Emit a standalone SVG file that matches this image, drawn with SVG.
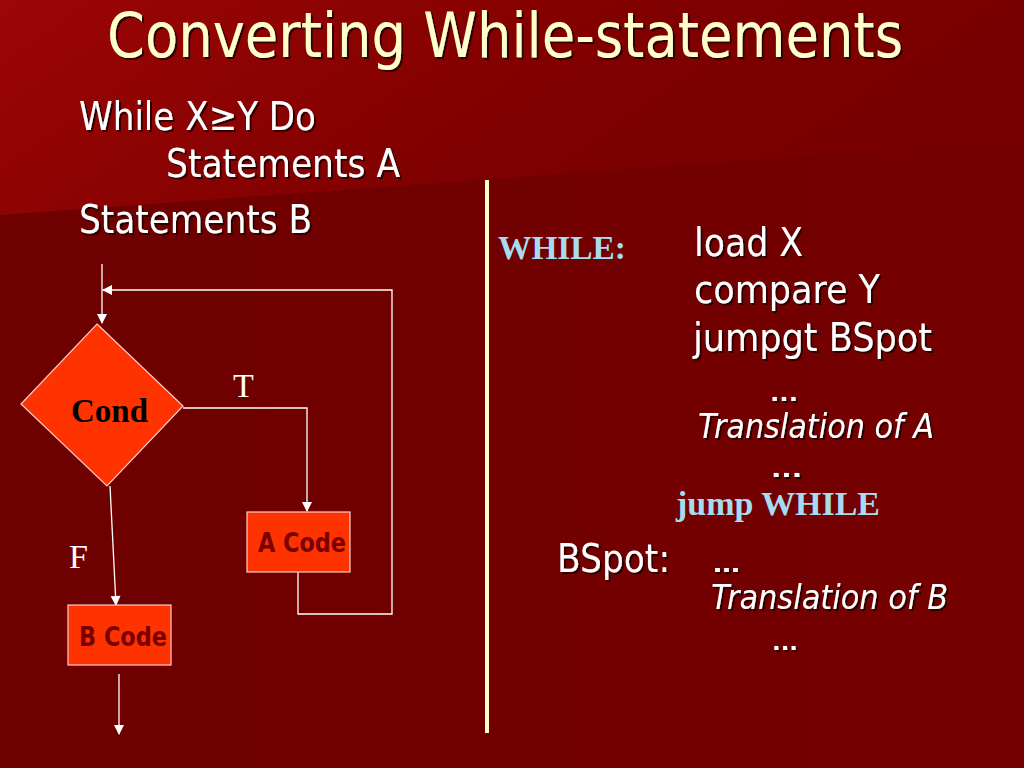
<svg xmlns="http://www.w3.org/2000/svg" width="1024" height="768" viewBox="0 0 1024 768">
<defs>
<linearGradient id="bgTop" x1="0" y1="0" x2="1" y2="0.3">
<stop offset="0" stop-color="#9c0606"/>
<stop offset="0.6" stop-color="#800000"/>
<stop offset="1" stop-color="#780000"/>
</linearGradient>
<linearGradient id="bgLow" x1="0" y1="0" x2="1" y2="0">
<stop offset="0" stop-color="#6e0000"/>
<stop offset="1" stop-color="#750000"/>
</linearGradient>
<filter id="sh" x="-10%" y="-20%" width="120%" height="150%">
<feDropShadow dx="2" dy="2" stdDeviation="0.6" flood-color="#2a0000" flood-opacity="0.9"/>
</filter>
<marker id="arr" viewBox="0 0 10 10" refX="9" refY="5" markerWidth="11" markerHeight="10" markerUnits="userSpaceOnUse" orient="auto">
<path d="M0,0 L10,5 L0,10 Z" fill="#ffffff"/>
</marker>
<style>
.body{font-family:"DejaVu Sans Condensed","DejaVu Sans","Liberation Sans",sans-serif;font-size:39px;fill:#ffffff;filter:url(#sh)}
.ital{font-style:italic;font-size:34px}
.title{font-family:"DejaVu Sans Condensed","DejaVu Sans","Liberation Sans",sans-serif;font-size:63px;fill:#ffffcc;filter:url(#sh)}
.blue{font-family:"Liberation Serif","Times New Roman",serif;font-weight:bold;fill:#a6dcf0;font-size:33px}
.serif{font-family:"Liberation Serif","Times New Roman",serif;fill:#ffffff;font-size:34px}
.box{fill:#ff3300;stroke:#ffcccc;stroke-width:1.2}
.boxt{font-family:"DejaVu Sans Condensed","DejaVu Sans","Liberation Sans",sans-serif;font-weight:bold;font-size:26px;fill:#7a0000}
.con{fill:none;stroke:#ffffff;stroke-width:1.3}
.dots{font-family:"DejaVu Sans","Liberation Sans",sans-serif;font-size:22px;font-weight:bold;fill:#ffffff;filter:url(#sh)}
</style>
</defs>
<rect x="0" y="0" width="1024" height="768" fill="url(#bgLow)"/>
<polygon points="0,0 1024,0 1024,140 0,215" fill="url(#bgTop)"/>

<text class="title" x="107" y="57" textLength="796" lengthAdjust="spacingAndGlyphs">Converting While-statements</text>

<text class="body" x="79" y="130" textLength="237" lengthAdjust="spacingAndGlyphs">While X≥Y Do</text>
<text class="body" x="166" y="177" textLength="234" lengthAdjust="spacingAndGlyphs">Statements A</text>
<text class="body" x="79" y="233" textLength="233" lengthAdjust="spacingAndGlyphs">Statements B</text>

<line x1="487" y1="180" x2="487" y2="733" stroke="#ffffcc" stroke-width="4"/>

<text class="blue" x="498" y="259" textLength="128" lengthAdjust="spacingAndGlyphs">WHILE:</text>
<text class="body" x="694" y="256" textLength="109" lengthAdjust="spacingAndGlyphs">load X</text>
<text class="body" x="694" y="303" textLength="186" lengthAdjust="spacingAndGlyphs">compare Y</text>
<text class="body" x="693" y="351" textLength="239" lengthAdjust="spacingAndGlyphs">jumpgt BSpot</text>
<text class="dots" x="770" y="401" textLength="28" lengthAdjust="spacingAndGlyphs">...</text>
<text class="body ital" x="698" y="438" textLength="236" lengthAdjust="spacingAndGlyphs">Translation of A</text>
<text class="dots" x="771" y="477" textLength="31" lengthAdjust="spacingAndGlyphs">...</text>
<text class="blue" x="676" y="515" textLength="204" lengthAdjust="spacingAndGlyphs">jump WHILE</text>
<text class="body" x="557" y="572" textLength="113" lengthAdjust="spacingAndGlyphs">BSpot:</text>
<text class="dots" x="713" y="572" textLength="27" lengthAdjust="spacingAndGlyphs">…</text>
<text class="body ital" x="711" y="609" textLength="237" lengthAdjust="spacingAndGlyphs">Translation of B</text>
<text class="dots" x="772" y="650" textLength="26" lengthAdjust="spacingAndGlyphs">...</text>

<g id="connectors">
<line class="con" x1="102" y1="264" x2="102" y2="323" marker-end="url(#arr)"/>
<polyline class="con" points="298,572 298,614 392,614 392,290 103,290" marker-end="url(#arr)"/>
<polyline class="con" points="183,408 307,408 307,511" marker-end="url(#arr)"/>
<line class="con" x1="110" y1="486" x2="116" y2="605" marker-end="url(#arr)"/>
<line class="con" x1="119" y1="674" x2="119" y2="734" marker-end="url(#arr)"/>
<text class="serif" x="233" y="397">T</text>
<text class="serif" x="69" y="568">F</text>
</g>

<g id="cond">
<polygon class="box" points="97,324 183,406 107,486 21,404"/>
<text x="71" y="422" textLength="77" lengthAdjust="spacingAndGlyphs" style="font-family:'Liberation Serif','Times New Roman',serif;font-weight:bold;font-size:34px;fill:#000000">Cond</text>
</g>

<g id="acode">
<rect class="box" x="247" y="512" width="103" height="60"/>
<text class="boxt" x="258" y="552" textLength="88" lengthAdjust="spacingAndGlyphs">A Code</text>
</g>

<g id="bcode">
<rect class="box" x="68" y="605" width="103" height="60"/>
<text class="boxt" x="79" y="646" textLength="88" lengthAdjust="spacingAndGlyphs">B Code</text>
</g>
</svg>
